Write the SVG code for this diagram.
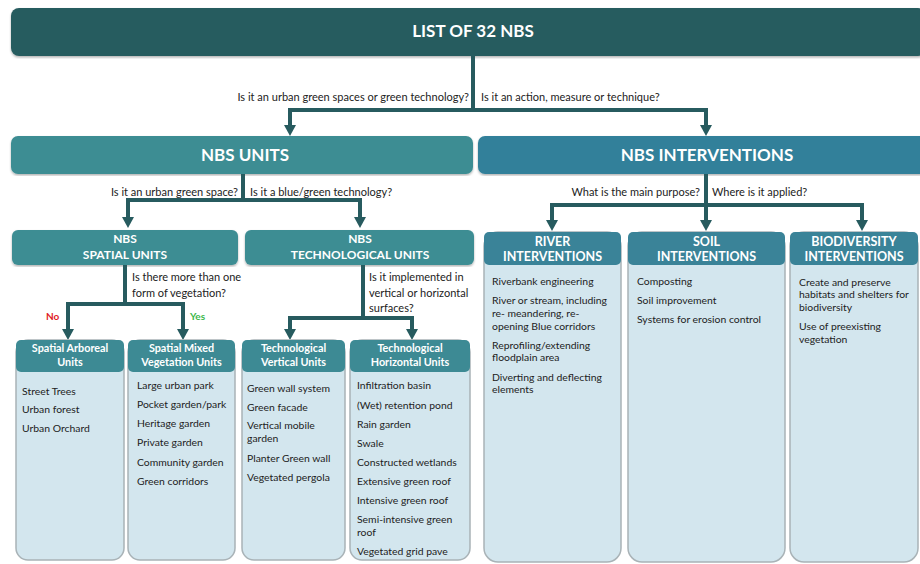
<svg xmlns="http://www.w3.org/2000/svg" width="920" height="564" viewBox="0 0 920 564">
<defs>
<marker id="ah" markerUnits="userSpaceOnUse" markerWidth="13" markerHeight="12" refX="0" refY="6" orient="auto">
<path d="M0,0 L11,6 L0,12 z" fill="#275b5f"/>
</marker>
<filter id="sh" x="-5%" y="-5%" width="110%" height="110%">
<feDropShadow dx="0" dy="1.5" stdDeviation="1.2" flood-color="#000" flood-opacity="0.3"/>
</filter>
</defs>
<style>
text{font-family:Lato,"Open Sans","Liberation Sans",sans-serif}
.hd{fill:#fff;font-weight:bold;text-anchor:middle}
.q{font-size:11px;fill:#222}
.b{font-size:10.4px;fill:#222}
.body{fill:#d3e6ee;stroke:#a9b3b7;stroke-width:1.5}
.sub{fill:#3d8a94}
.int{fill:#3a8398}
.con{fill:none;stroke:#275b5f;stroke-width:4;stroke-linejoin:miter}
</style>
<rect width="920" height="564" fill="#fff"/>

<g id="top">
<rect x="11" y="8" width="915" height="48" rx="8" fill="#275b5f" filter="url(#sh)"/>
<text x="473" y="37" class="hd" font-size="17">LIST OF 32 NBS</text>
</g>

<g id="nbs-units">
<rect x="11" y="136" width="462" height="38" rx="7" fill="#3e8d93" filter="url(#sh)"/>
<text x="245" y="161" class="hd" font-size="17">NBS UNITS</text>
</g>
<g id="nbs-interventions">
<rect x="478" y="136" width="450" height="38" rx="7" fill="#33809a" filter="url(#sh)"/>
<text x="707" y="161" class="hd" font-size="17">NBS INTERVENTIONS</text>
</g>

<g id="spatial-units">
<rect x="12" y="230" width="226" height="35" rx="6" fill="#3e8d93" filter="url(#sh)"/>
<text x="125" y="243" class="hd" font-size="12">NBS</text>
<text x="125" y="259" class="hd" font-size="12">SPATIAL UNITS</text>
</g>
<g id="tech-units">
<rect x="245" y="230" width="229" height="35" rx="6" fill="#3e8d93" filter="url(#sh)"/>
<text x="360" y="243" class="hd" font-size="12">NBS</text>
<text x="360" y="259" class="hd" font-size="12">TECHNOLOGICAL UNITS</text>
</g>

<g id="connectors">
<path class="con" d="M473 56 V110 H290 V125" marker-end="url(#ah)"/>
<path class="con" d="M473 110 H706 V125" marker-end="url(#ah)"/>
<path class="con" d="M243 174 V200 H128 V217" marker-end="url(#ah)"/>
<path class="con" d="M243 200 H360 V217" marker-end="url(#ah)"/>
<path class="con" d="M125 265 V304 H68 V329" marker-end="url(#ah)"/>
<path class="con" d="M125 304 H183 V329" marker-end="url(#ah)"/>
<path class="con" d="M363 265 V318 H290 V329" marker-end="url(#ah)"/>
<path class="con" d="M363 318 H412 V329" marker-end="url(#ah)"/>
<path class="con" d="M706 174 V205 H552 V220" marker-end="url(#ah)"/>
<path class="con" d="M706 205 H862 V220" marker-end="url(#ah)"/>
<path class="con" d="M706 205 V220" marker-end="url(#ah)"/>
<text x="469" y="101" class="q" text-anchor="end">Is it an urban green spaces or green technology?</text>
<text x="481" y="101" class="q">Is it an action, measure or technique?</text>
<text x="238" y="196" class="q" text-anchor="end">Is it an urban green space?</text>
<text x="250" y="196" class="q">Is it a blue/green technology?</text>
<text x="132" y="281" class="q">Is there more than one</text>
<text x="132" y="297" class="q">form of vegetation?</text>
<text x="369" y="281" class="q">Is it implemented in</text>
<text x="369" y="297" class="q">vertical or horizontal</text>
<text x="369" y="312" class="q">surfaces?</text>
<text x="46" y="320" font-size="10" font-weight="bold" fill="#e0201e">No</text>
<text x="190" y="320" font-size="10" font-weight="bold" fill="#3cb84a">Yes</text>
<text x="700" y="196" class="q" text-anchor="end">What is the main purpose?</text>
<text x="712" y="196" class="q">Where is it applied?</text>
</g>

<g id="spatial-arboreal">
<rect x="16" y="340" width="108" height="220" rx="12" class="body"/>
<rect x="16" y="340" width="108" height="32" rx="5" class="sub"/>
<text x="70" y="352" class="hd" font-size="10.8">Spatial Arboreal</text>
<text x="70" y="366" class="hd" font-size="10.8">Units</text>
<text x="22" y="395" class="b">Street Trees</text>
<text x="22" y="413" class="b">Urban forest</text>
<text x="22" y="432" class="b">Urban Orchard</text>
</g>

<g id="spatial-mixed">
<rect x="128" y="340" width="107" height="220" rx="12" class="body"/>
<rect x="128" y="340" width="107" height="32" rx="5" class="sub"/>
<text x="181.5" y="352" class="hd" font-size="10.8">Spatial Mixed</text>
<text x="181.5" y="366" class="hd" font-size="10.8">Vegetation Units</text>
<text x="137" y="389" class="b">Large urban park</text>
<text x="137" y="408" class="b">Pocket garden/park</text>
<text x="137" y="427" class="b">Heritage garden</text>
<text x="137" y="446" class="b">Private garden</text>
<text x="137" y="466" class="b">Community garden</text>
<text x="137" y="485" class="b">Green corridors</text>
</g>

<g id="tech-vertical">
<rect x="242" y="340" width="103" height="220" rx="12" class="body"/>
<rect x="242" y="340" width="103" height="32" rx="5" class="sub"/>
<text x="293.5" y="352" class="hd" font-size="10.8">Technological</text>
<text x="293.5" y="366" class="hd" font-size="10.8">Vertical Units</text>
<text x="247" y="392" class="b">Green wall system</text>
<text x="247" y="411" class="b">Green facade</text>
<text x="247" y="429" class="b">Vertical mobile</text>
<text x="247" y="442" class="b">garden</text>
<text x="247" y="462" class="b">Planter Green wall</text>
<text x="247" y="481" class="b">Vegetated pergola</text>
</g>

<g id="tech-horizontal">
<rect x="350" y="340" width="120" height="220" rx="12" class="body"/>
<rect x="350" y="340" width="120" height="32" rx="5" class="sub"/>
<text x="410" y="352" class="hd" font-size="10.8">Technological</text>
<text x="410" y="366" class="hd" font-size="10.8">Horizontal Units</text>
<text x="357" y="389" class="b">Infiltration basin</text>
<text x="357" y="409" class="b">(Wet) retention pond</text>
<text x="357" y="428" class="b">Rain garden</text>
<text x="357" y="447" class="b">Swale</text>
<text x="357" y="466" class="b">Constructed wetlands</text>
<text x="357" y="485" class="b">Extensive green roof</text>
<text x="357" y="504" class="b">Intensive green roof</text>
<text x="357" y="523" class="b">Semi-intensive green</text>
<text x="357" y="536" class="b">roof</text>
<text x="357" y="555" class="b">Vegetated grid pave</text>
</g>

<g id="river">
<rect x="484" y="232" width="137" height="330" rx="14" class="body"/>
<rect x="484" y="232" width="137" height="33" rx="5" class="int"/>
<text x="552.5" y="246" class="hd" font-size="12.5">RIVER</text>
<text x="552.5" y="261" class="hd" font-size="12.5">INTERVENTIONS</text>
<text x="492" y="285" class="b">Riverbank engineering</text>
<text x="492" y="304" class="b">River or stream, including</text>
<text x="492" y="317" class="b">re- meandering, re-</text>
<text x="492" y="330" class="b">opening Blue corridors</text>
<text x="492" y="349" class="b">Reprofiling/extending</text>
<text x="492" y="361" class="b">floodplain area</text>
<text x="492" y="381" class="b">Diverting and deflecting</text>
<text x="492" y="393" class="b">elements</text>
</g>

<g id="soil">
<rect x="628" y="232" width="157" height="330" rx="14" class="body"/>
<rect x="628" y="232" width="157" height="33" rx="5" class="int"/>
<text x="706.5" y="246" class="hd" font-size="12.5">SOIL</text>
<text x="706.5" y="261" class="hd" font-size="12.5">INTERVENTIONS</text>
<text x="637" y="285" class="b">Composting</text>
<text x="637" y="304" class="b">Soil improvement</text>
<text x="637" y="323" class="b">Systems for erosion control</text>
</g>

<g id="biodiversity">
<rect x="790" y="232" width="128" height="330" rx="14" class="body"/>
<rect x="790" y="232" width="128" height="33" rx="5" class="int"/>
<text x="854" y="246" class="hd" font-size="12.5">BIODIVERSITY</text>
<text x="854" y="261" class="hd" font-size="12.5">INTERVENTIONS</text>
<text x="799" y="286" class="b">Create and preserve</text>
<text x="799" y="298" class="b">habitats and shelters for</text>
<text x="799" y="311" class="b">biodiversity</text>
<text x="799" y="330" class="b">Use of preexisting</text>
<text x="799" y="343" class="b">vegetation</text>
</g>
</svg>
